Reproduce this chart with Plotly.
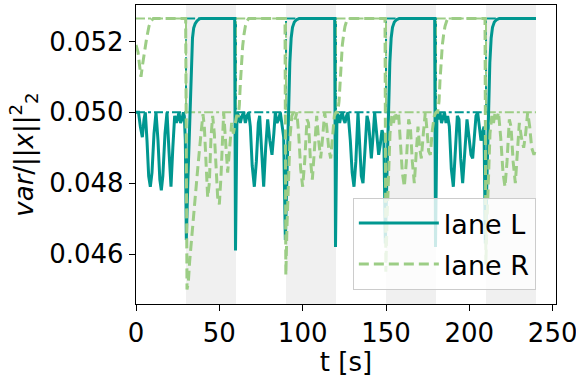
import plotly.graph_objects as go

# lane L (solid) - time [s] and var/||x||^2
t_L = [0, 1.5, 2.6, 3.8, 4.8, 5.6, 6.6, 7.6, 8.6, 9.6, 10.8, 12.0, 13.2, 14.3, 15.2, 16.1, 17.4, 18.6,
       19.8, 21.0, 22.1, 23.2, 24.2, 25.2, 25.8, 26.7, 27.6, 28.4, 29.0, 29.6,
       30.2, 31.2, 32.3, 33.2, 33.9, 34.6, 35.5, 36.6, 38.0, 39.0, 59.2,
       59.7, 60.6, 61.6, 62.6, 63.6, 64.6, 65.6, 66.6, 67.6, 68.6, 69.7, 71.0, 72.2, 73.4, 74.2,
       75.3, 76.6, 77.8, 79.0, 80.3, 81.6, 82.7, 83.6, 84.6, 85.6, 86.6, 87.6, 88.6,
       89.6, 90.5, 91.4, 92.3, 93.1, 93.9, 95.0, 96.5, 98.0, 119.2,
       119.7, 120.6, 121.4, 122.2, 123.0, 123.8, 124.6, 125.4, 126.3, 127.2, 128.6, 129.7, 130.8,
       131.9, 133.2, 134.4, 135.2, 136.2, 137.4, 138.6, 139.6, 140.5, 141.2, 142.2, 143.2, 144.4,
       145.6, 146.6, 147.6, 148.7,
       149.6, 150.5, 151.4, 152.3, 153.1, 153.9, 155.0, 156.5, 158.0, 179.2,
       179.7, 180.6, 181.5, 182.4, 183.3, 184.2, 185.1, 186.0, 187.0, 188.0, 189.2, 190.4, 191.5,
       192.8, 193.8, 194.8, 196.0, 197.2, 198.6, 199.8, 201.0, 202.0, 203.0, 204.0, 205.0, 206.0,
       207.0, 207.8, 208.8,
       209.6, 210.5, 211.4, 212.3, 213.1, 213.9, 215.0, 216.5, 218.0, 240.0]
v_L = [0.0500, 0.0500, 0.0496, 0.0493, 0.0498, 0.0500, 0.0492, 0.0482, 0.0479, 0.0483, 0.0494, 0.0500,
       0.0492, 0.0481, 0.0478, 0.0482, 0.0494, 0.0500,
       0.0489, 0.0479, 0.0490, 0.0499, 0.0497, 0.0499, 0.0500, 0.0497, 0.0498, 0.0500, 0.0499, 0.0492,
       0.0464, 0.0482, 0.0500, 0.0514, 0.0521, 0.05238, 0.0525, 0.05258, 0.05264, 0.05265, 0.05265,
       0.0461, 0.0500, 0.0499, 0.0497, 0.0499, 0.0500, 0.0497, 0.0499, 0.0500, 0.0496, 0.0485, 0.0479,
       0.0486, 0.0497, 0.0499,
       0.0488, 0.0479, 0.0490, 0.0498, 0.0492, 0.0488, 0.0494, 0.0500, 0.0497, 0.0498, 0.0500, 0.0497,
       0.0493,
       0.0464, 0.0481, 0.0500, 0.0514, 0.0521, 0.0524, 0.05255, 0.05262, 0.05265, 0.05265,
       0.0462, 0.0500, 0.0499, 0.0497, 0.0499, 0.0500, 0.0498, 0.0497, 0.0499, 0.0500, 0.0492, 0.0483,
       0.0479,
       0.0486, 0.0500, 0.0490, 0.0482, 0.0480, 0.0488, 0.0499, 0.0497, 0.0490, 0.0487, 0.0493, 0.0500,
       0.0494,
       0.0488, 0.0491, 0.0495, 0.0493,
       0.0463, 0.0481, 0.0500, 0.0514, 0.0521, 0.0524, 0.05255, 0.05262, 0.05265, 0.05265,
       0.0462, 0.0500, 0.0498, 0.0500, 0.0497, 0.0499, 0.0500, 0.0497, 0.0499, 0.0496, 0.0484, 0.0479,
       0.0487,
       0.0499, 0.0498, 0.0487, 0.0480, 0.0488, 0.0498, 0.0493, 0.0488, 0.0487, 0.0494, 0.0499, 0.0500,
       0.0496,
       0.0492, 0.0494, 0.0496,
       0.0463, 0.0481, 0.0500, 0.0514, 0.0521, 0.0524, 0.05255, 0.05262, 0.05265, 0.05265]

# lane R (dashed)
t_R = [0, 1.2, 2.2, 3.0, 3.8, 5.0, 6.4, 7.8, 9.0, 10.4, 29.8,
       30.6, 31.4, 32.2, 33.6, 35.2, 37.2, 39.0, 40.2, 41.0, 42.0, 43.0, 44.0, 45.0, 46.0, 47.0,
       48.0, 49.0, 50.0, 51.0, 52.6, 53.6, 55.0, 56.2, 57.4, 58.4, 59.4, 60.4, 61.4,
       62.0, 62.6, 63.2, 64.0, 64.8, 65.6, 66.6, 67.6, 89.4,
       89.9, 90.6, 91.4, 92.4, 93.5, 94.5, 95.5, 96.5, 97.6, 98.8, 100.0, 101.2, 102.6, 103.5,
       104.6, 105.8, 107.0, 108.4, 109.6, 110.8, 112.0, 113.2, 114.4, 115.6, 116.8, 118.0, 119.0,
       120.0, 121.0, 121.8, 122.4, 123.0, 123.8, 124.6, 125.4, 126.4, 127.4, 149.4,
       149.9, 150.6, 151.4, 152.4, 153.5, 154.5, 155.5, 156.5, 157.5, 158.6, 159.8, 161.0, 162.2,
       163.6, 164.6, 165.8, 167.0, 168.2, 169.2, 170.2, 171.2, 172.4, 173.6, 174.6, 175.6, 176.6,
       177.8, 179.0, 180.0, 181.0, 181.8, 182.4, 183.0, 183.8, 184.6, 185.4, 186.4, 187.4, 209.4,
       209.9, 210.6, 211.4, 212.4, 213.5, 214.5, 215.5, 216.5, 217.5, 218.8, 220.2, 221.4, 222.6,
       224.0, 225.0, 226.3, 227.6, 228.8, 230.0, 231.2, 232.6, 233.8, 235.0, 236.2, 237.4, 238.8, 240.0]
v_R = [0.0519, 0.0517, 0.0513, 0.0510, 0.0513, 0.0517, 0.0521, 0.05243, 0.05258, 0.05265, 0.05265,
       0.0450, 0.0452, 0.0458, 0.0466, 0.0475, 0.0485, 0.0494, 0.04995, 0.0496, 0.0484, 0.0476, 0.0480,
       0.0493, 0.0499, 0.0494,
       0.0485, 0.0476, 0.0474, 0.0482, 0.0500, 0.0492, 0.0483, 0.0490, 0.0497, 0.0494, 0.0497, 0.0499,
       0.0499,
       0.0502, 0.0508, 0.0513, 0.05187, 0.0522, 0.05243, 0.05258, 0.05265, 0.05265,
       0.0454, 0.0468, 0.0482, 0.0493, 0.0499, 0.0500, 0.0498, 0.0500, 0.0494, 0.0484, 0.0479, 0.0486,
       0.0498, 0.0497,
       0.0487, 0.0481, 0.0489, 0.0499, 0.0492, 0.0487, 0.0493, 0.0500, 0.0496, 0.0490, 0.0487, 0.0494,
       0.0499,
       0.0500, 0.0500, 0.0503, 0.0509, 0.0514, 0.0519, 0.0522, 0.05243, 0.05258, 0.05265, 0.05265,
       0.0455, 0.0469, 0.0483, 0.0494, 0.0499, 0.0497, 0.0500, 0.0498, 0.0500, 0.0493, 0.0483, 0.0479,
       0.0486,
       0.0498, 0.0496, 0.0486, 0.0480, 0.0489, 0.0496, 0.0490, 0.0487, 0.0494, 0.0500, 0.0495, 0.0489,
       0.0488,
       0.0495, 0.0499, 0.0500, 0.0500, 0.0503, 0.0509, 0.0514, 0.0519, 0.0522, 0.05243, 0.05258,
       0.05265, 0.05265,
       0.0457, 0.0469, 0.0483, 0.0494, 0.0499, 0.0497, 0.0500, 0.0498, 0.0500, 0.0493, 0.0483, 0.0479,
       0.0486,
       0.0498, 0.0496, 0.0486, 0.0480, 0.0489, 0.0497, 0.0493, 0.0490, 0.0494, 0.0500, 0.0496, 0.0490,
       0.0488, 0.0490]

# step targets of each lane
t_ref = [0, 30, 60, 90, 120, 150, 180, 210, 240]
ref_L = [0.050, 0.05265, 0.050, 0.05265, 0.050, 0.05265, 0.050, 0.05265, 0.05265]
ref_R = [0.05265, 0.050, 0.05265, 0.050, 0.05265, 0.050, 0.05265, 0.050, 0.050]

gray_periods = [(30, 60), (90, 120), (150, 180), (210, 240)]

TEAL = "#009790"
GREEN = "#9ccd85"
FONT = "DejaVu Sans"

fig = go.Figure()
for a, b in gray_periods:
    fig.add_vrect(x0=a, x1=b, fillcolor="#f0f0f0", line_width=0, layer="below")

fig.add_trace(go.Scatter(x=t_ref, y=ref_L, mode="lines", line=dict(color=TEAL, width=2, dash="dashdot", shape="hv"),
                         showlegend=False, hoverinfo="skip"))
fig.add_trace(go.Scatter(x=t_ref, y=ref_R, mode="lines", line=dict(color=GREEN, width=2, dash="dashdot", shape="hv"),
                         showlegend=False, hoverinfo="skip"))
fig.add_trace(go.Scatter(x=t_L, y=v_L, mode="lines", name="lane L", legendgroup="L",
                         line=dict(color=TEAL, width=3)))
fig.add_trace(go.Scatter(x=t_R, y=v_R, mode="lines", name="lane R", legendgroup="R",
                         line=dict(color=GREEN, width=3, dash="10px,5px")))

axis = dict(showline=True, linecolor="black", linewidth=1.3, mirror=True, ticks="outside", ticklen=6,
            tickwidth=1.3, tickcolor="black", showgrid=False, zeroline=False, automargin=False,
            ticklabeloverflow="allow", tickfont=dict(family=FONT, size=26, color="black"))

fig.update_layout(
    width=576, height=377,
    margin=dict(l=136, r=20, t=5, b=73),
    plot_bgcolor="white", paper_bgcolor="white",
    font=dict(family=FONT, size=26, color="black"),
    xaxis=dict(axis, range=[0, 252], tickvals=[0, 50, 100, 150, 200, 250],
               title=dict(text="t [s]", font=dict(family=FONT, size=26), standoff=2)),
    yaxis=dict(axis, range=[0.04459, 0.05303], tickvals=[0.046, 0.048, 0.050, 0.052], tickformat=".3f",
               title=dict(text="<i>var</i>/||<i>x</i>||<sup>2</sup><sub>2</sub>",
                          font=dict(family=FONT, size=26), standoff=8)),
    legend=dict(x=0.952, y=0.047, xanchor="right", yanchor="bottom", bgcolor="rgba(255,255,255,0.8)",
                bordercolor="#cccccc", borderwidth=1, font=dict(family=FONT, size=27), itemwidth=80,
                tracegroupgap=3),
)

fig.write_html("out.html", config={"displayModeBar": False},
               post_script="document.body.style.margin='0';document.body.style.overflow='hidden';")
